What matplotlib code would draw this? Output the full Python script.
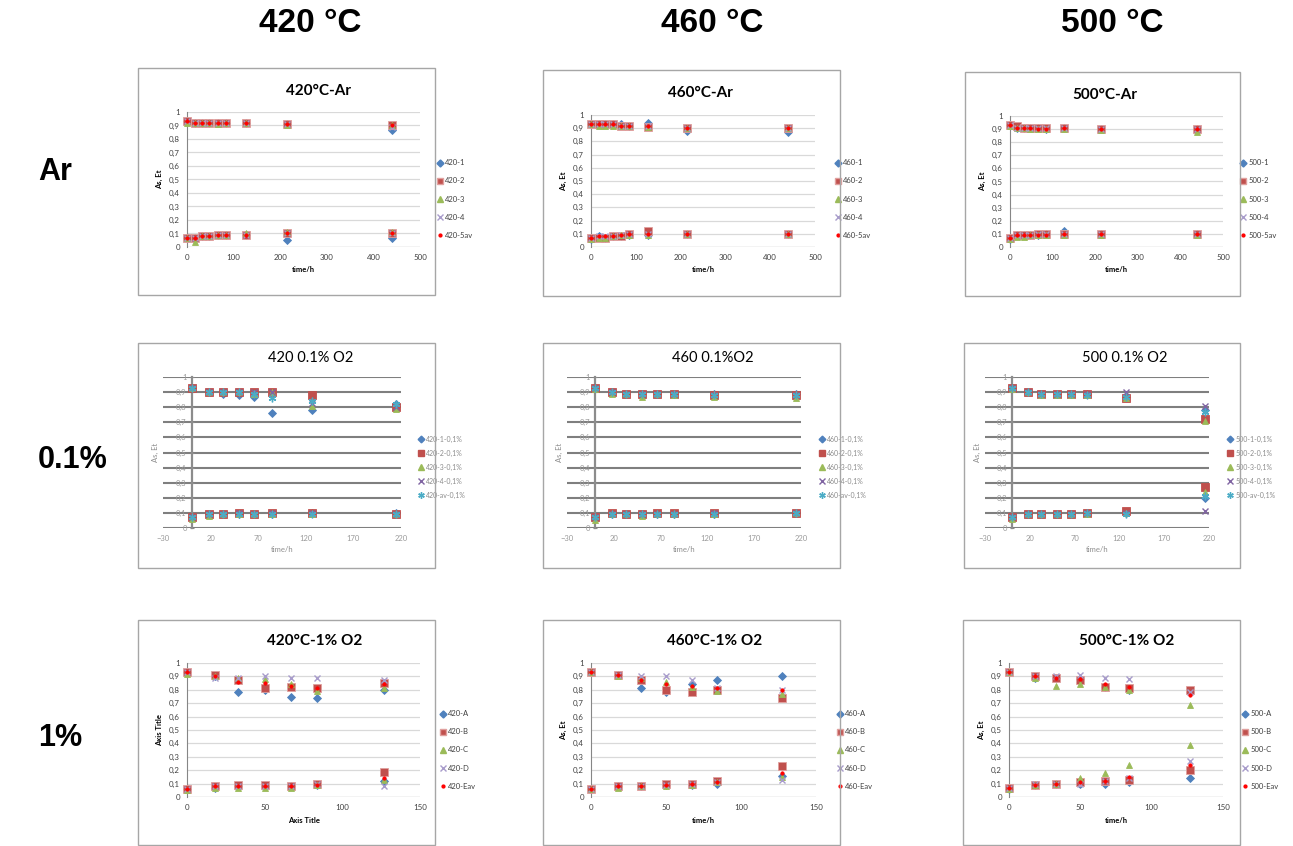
import matplotlib
matplotlib.use("Agg")
import matplotlib.pyplot as plt
from matplotlib.patches import Rectangle
from matplotlib.lines import Line2D
from matplotlib.ticker import FuncFormatter, MultipleLocator

W, H = 1293, 846

# --- DATA ---
COL_HEADS = ['420 °C', '460 °C', '500 °C']
ROW_HEADS = ['Ar', '0.1%', '1%']
TEMPS = ['420', '460', '500']

TITLES_AR = ['420°C-Ar', '460°C-Ar', '500°C-Ar']
TITLES_01 = ['420 0.1% O2', '460 0.1%O2', '500 0.1% O2']
TITLES_1 = ['420°C-1% O2', '460°C-1% O2', '500°C-1% O2']

SUFFIX_AR = ['-1', '-2', '-3', '-4', '-5av']
SUFFIX_01 = ['-1-0,1%', '-2-0,1%', '-3-0,1%', '-4-0,1%', '-av-0,1%']
SUFFIX_1 = ['-A', '-B', '-C', '-D', '-Eav']

# time points (h)
T_AR = [0, 17, 32, 48, 66, 84, 127, 214, 439]
T_01 = [0, 18, 33, 50, 66, 84, 127, 215]
T_1 = [0, 18, 33, 50, 67, 84, 127]

# Ar, upper (As) and lower (Et) branches, one row per series
AR420_UP = [[0.93, 0.92, 0.92, 0.92, 0.92, 0.92, 0.92, 0.91, 0.87],
            [0.93, 0.92, 0.92, 0.92, 0.92, 0.92, 0.92, 0.91, 0.90],
            [0.92, 0.92, 0.92, 0.92, 0.91, 0.92, 0.92, 0.90, 0.90],
            [0.93, 0.92, 0.92, 0.92, 0.92, 0.92, 0.92, 0.91, 0.89],
            [0.93, 0.92, 0.92, 0.92, 0.92, 0.92, 0.92, 0.91, 0.90]]
AR420_LOW = [[0.07, 0.07, 0.08, 0.08, 0.09, 0.09, 0.09, 0.05, 0.07],
             [0.07, 0.07, 0.08, 0.08, 0.09, 0.09, 0.09, 0.10, 0.10],
             [0.07, 0.04, 0.08, 0.08, 0.09, 0.09, 0.10, 0.11, 0.11],
             [0.07, 0.07, 0.08, 0.08, 0.09, 0.09, 0.09, 0.10, 0.10],
             [0.07, 0.07, 0.08, 0.08, 0.09, 0.09, 0.09, 0.10, 0.10]]
AR460_UP = [[0.93, 0.93, 0.93, 0.93, 0.93, 0.92, 0.94, 0.88, 0.87],
            [0.93, 0.93, 0.93, 0.93, 0.92, 0.92, 0.91, 0.90, 0.90],
            [0.93, 0.92, 0.92, 0.92, 0.92, 0.92, 0.91, 0.90, 0.90],
            [0.93, 0.93, 0.93, 0.93, 0.92, 0.92, 0.92, 0.90, 0.90],
            [0.93, 0.93, 0.93, 0.93, 0.92, 0.92, 0.92, 0.90, 0.90]]
AR460_LOW = [[0.06, 0.08, 0.07, 0.08, 0.08, 0.09, 0.09, 0.10, 0.10],
             [0.07, 0.07, 0.07, 0.08, 0.08, 0.10, 0.12, 0.10, 0.10],
             [0.06, 0.07, 0.07, 0.08, 0.09, 0.09, 0.09, 0.10, 0.10],
             [0.07, 0.08, 0.08, 0.08, 0.09, 0.10, 0.10, 0.10, 0.10],
             [0.07, 0.08, 0.08, 0.08, 0.09, 0.10, 0.10, 0.10, 0.10]]
AR500_UP = [[0.93, 0.91, 0.91, 0.91, 0.91, 0.90, 0.91, 0.90, 0.90],
            [0.93, 0.92, 0.91, 0.91, 0.91, 0.91, 0.91, 0.90, 0.90],
            [0.92, 0.91, 0.91, 0.90, 0.90, 0.90, 0.90, 0.89, 0.88],
            [0.93, 0.91, 0.91, 0.91, 0.91, 0.91, 0.91, 0.90, 0.90],
            [0.93, 0.91, 0.91, 0.91, 0.90, 0.90, 0.91, 0.90, 0.90]]
AR500_LOW = [[0.06, 0.09, 0.09, 0.09, 0.09, 0.10, 0.12, 0.10, 0.10],
             [0.07, 0.09, 0.09, 0.09, 0.10, 0.10, 0.10, 0.10, 0.10],
             [0.06, 0.08, 0.08, 0.09, 0.09, 0.09, 0.09, 0.09, 0.09],
             [0.07, 0.09, 0.09, 0.09, 0.10, 0.10, 0.10, 0.10, 0.10],
             [0.07, 0.09, 0.09, 0.09, 0.09, 0.09, 0.10, 0.10, 0.10]]

# 0.1% O2
O01_420_UP = [[0.93, 0.90, 0.89, 0.88, 0.87, 0.76, 0.78, 0.82],
              [0.93, 0.90, 0.90, 0.90, 0.90, 0.90, 0.88, 0.80],
              [0.93, 0.90, 0.90, 0.90, 0.89, 0.90, 0.81, 0.79],
              [0.93, 0.90, 0.90, 0.90, 0.90, 0.90, 0.83, 0.80],
              [0.93, 0.90, 0.90, 0.90, 0.89, 0.86, 0.84, 0.82]]
O01_420_LOW = [[0.07, 0.09, 0.09, 0.09, 0.09, 0.09, 0.10, 0.10],
               [0.07, 0.09, 0.09, 0.10, 0.09, 0.10, 0.10, 0.09],
               [0.06, 0.08, 0.09, 0.09, 0.09, 0.09, 0.09, 0.09],
               [0.07, 0.09, 0.09, 0.10, 0.09, 0.10, 0.10, 0.09],
               [0.07, 0.09, 0.09, 0.09, 0.09, 0.09, 0.09, 0.09]]
O01_460_UP = [[0.93, 0.90, 0.89, 0.89, 0.89, 0.89, 0.89, 0.89],
              [0.93, 0.90, 0.89, 0.89, 0.89, 0.89, 0.88, 0.88],
              [0.92, 0.89, 0.89, 0.87, 0.89, 0.88, 0.87, 0.86],
              [0.93, 0.90, 0.89, 0.89, 0.89, 0.89, 0.88, 0.88],
              [0.93, 0.90, 0.89, 0.89, 0.89, 0.89, 0.88, 0.88]]
O01_460_LOW = [[0.07, 0.09, 0.09, 0.09, 0.09, 0.09, 0.09, 0.10],
               [0.07, 0.10, 0.09, 0.09, 0.10, 0.10, 0.10, 0.10],
               [0.05, 0.09, 0.09, 0.08, 0.09, 0.09, 0.09, 0.10],
               [0.07, 0.09, 0.09, 0.09, 0.09, 0.09, 0.10, 0.10],
               [0.07, 0.09, 0.09, 0.09, 0.09, 0.09, 0.09, 0.10]]
O01_500_UP = [[0.93, 0.90, 0.89, 0.89, 0.89, 0.89, 0.87, 0.78],
              [0.93, 0.90, 0.89, 0.89, 0.89, 0.89, 0.86, 0.72],
              [0.92, 0.90, 0.88, 0.88, 0.88, 0.88, 0.86, 0.71],
              [0.93, 0.90, 0.89, 0.89, 0.89, 0.89, 0.90, 0.81],
              [0.93, 0.90, 0.89, 0.89, 0.89, 0.88, 0.87, 0.77]]
O01_500_LOW = [[0.07, 0.09, 0.09, 0.09, 0.09, 0.10, 0.10, 0.20],
               [0.07, 0.09, 0.09, 0.09, 0.09, 0.10, 0.11, 0.27],
               [0.06, 0.09, 0.09, 0.09, 0.09, 0.09, 0.10, 0.24],
               [0.07, 0.09, 0.09, 0.09, 0.09, 0.10, 0.10, 0.11],
               [0.07, 0.09, 0.09, 0.09, 0.09, 0.10, 0.09, 0.21]]

# 1% O2
O1_420_UP = [[0.93, 0.90, 0.78, 0.80, 0.75, 0.74, 0.80],
             [0.93, 0.91, 0.87, 0.81, 0.82, 0.81, 0.85],
             [0.92, 0.90, 0.89, 0.88, 0.84, 0.79, 0.81],
             [0.93, 0.89, 0.89, 0.90, 0.89, 0.89, 0.87],
             [0.93, 0.90, 0.86, 0.85, 0.83, 0.81, 0.84]]
O1_420_LOW = [[0.06, 0.07, 0.08, 0.08, 0.08, 0.09, 0.12],
              [0.06, 0.08, 0.09, 0.09, 0.08, 0.10, 0.19],
              [0.05, 0.07, 0.07, 0.07, 0.07, 0.09, 0.13],
              [0.06, 0.08, 0.08, 0.08, 0.08, 0.10, 0.08],
              [0.06, 0.08, 0.08, 0.08, 0.08, 0.09, 0.14]]
O1_460_UP = [[0.93, 0.91, 0.81, 0.78, 0.84, 0.87, 0.90],
             [0.93, 0.91, 0.87, 0.80, 0.78, 0.80, 0.74],
             [0.93, 0.90, 0.89, 0.86, 0.82, 0.79, 0.77],
             [0.93, 0.91, 0.90, 0.90, 0.87, 0.81, 0.80],
             [0.93, 0.91, 0.87, 0.84, 0.83, 0.81, 0.80]]
O1_460_LOW = [[0.06, 0.08, 0.08, 0.09, 0.09, 0.10, 0.16],
              [0.06, 0.08, 0.08, 0.10, 0.10, 0.12, 0.23],
              [0.06, 0.07, 0.08, 0.08, 0.09, 0.11, 0.15],
              [0.06, 0.08, 0.08, 0.09, 0.10, 0.11, 0.13],
              [0.06, 0.08, 0.08, 0.09, 0.10, 0.11, 0.18]]
O1_500_UP = [[0.93, 0.89, 0.89, 0.88, 0.82, 0.80, 0.78],
             [0.93, 0.90, 0.89, 0.87, 0.82, 0.81, 0.80],
             [0.93, 0.89, 0.83, 0.84, 0.82, 0.80, 0.69],
             [0.93, 0.90, 0.90, 0.91, 0.89, 0.88, 0.78],
             [0.93, 0.90, 0.89, 0.88, 0.84, 0.82, 0.76]]
O1_500_LOW = [[0.06, 0.09, 0.10, 0.10, 0.10, 0.11, 0.14],
              [0.07, 0.09, 0.10, 0.11, 0.12, 0.13, 0.20],
              [0.06, 0.09, 0.10, 0.14, 0.18, 0.24, 0.39],
              [0.07, 0.10, 0.10, 0.10, 0.12, 0.14, 0.27],
              [0.07, 0.09, 0.10, 0.11, 0.12, 0.15, 0.24]]

# --- LAYOUT (pixel boxes: left, top, right, bottom) ---
FRAMES = [[(138, 68, 435, 295), (543, 70, 840, 296), (965, 72, 1240, 296)],
          [(138, 343, 435, 568), (543, 343, 840, 568), (964, 343, 1240, 568)],
          [(138, 620, 435, 845), (543, 620, 840, 845), (963, 620, 1240, 845)]]
AREAS = [[(187, 112, 420, 247), (591, 115, 815, 247), (1010, 116, 1223, 247)],
         [(163, 377, 401, 528), (567, 377, 801, 528), (985, 377, 1209, 528)],
         [(187, 663, 420, 797), (591, 663, 816, 797), (1009, 663, 1223, 797)]]
TITLE_POS = [[(318, 91), (700, 93), (1105, 95)],
             [(311, 358), (713, 358), (1125, 358)],
             [(315, 641), (715, 641), (1127, 641)]]
LEGEND_POS = [[(436, 199), (834, 199), (1239, 199)],
              [(418, 467), (819, 467), (1227, 467)],
              [(439, 750), (836, 750), (1241, 750)]]

FONT = ['Lato', 'DejaVu Sans']
HEAD_FONT = ['Liberation Sans', 'DejaVu Sans']

# marker styles: (marker, face, edge, size)
STYLE_XL = [('D', '#4F81BD', '#4F81BD', 4.2),
            ('s', '#C0504D', '#E0A09E', 5.5),
            ('^', '#9BBB59', '#9BBB59', 5.0),
            ('x', '#A89CCB', '#A89CCB', 5.0),
            ('o', '#FF0000', '#FF0000', 2.4)]
STYLE_01 = [('D', '#4F81BD', '#4F81BD', 4.0),
            ('s', '#C0504D', '#C0504D', 5.2),
            ('^', '#9BBB59', '#9BBB59', 5.0),
            ('x', '#8064A2', '#8064A2', 5.0),
            ((6, 2, 0), '#4BACC6', '#4BACC6', 5.5)]


def fbox(b):
    l, t, r, bt = b
    return [l / W, 1 - bt / H, (r - l) / W, (bt - t) / H]


def comma(v, pos):
    return ('%g' % round(v, 1)).replace('.', ',')


fig = plt.figure(figsize=(W / 100, H / 100), dpi=100)
fig.patch.set_facecolor('white')

# column and row headers
for j, txt in enumerate(COL_HEADS):
    fig.text([310, 712, 1112][j] / W, 1 - 24 / H, txt, ha='center', va='center',
             fontsize=24, fontweight='bold', family=HEAD_FONT)
for i, txt in enumerate(ROW_HEADS):
    fig.text(38 / W, 1 - [172, 460, 738][i] / H, txt, ha='left', va='center',
             fontsize=22, fontweight='bold', family=HEAD_FONT)

ROWS = [
    dict(x=T_AR, up=[AR420_UP, AR460_UP, AR500_UP], low=[AR420_LOW, AR460_LOW, AR500_LOW],
         titles=TITLES_AR, suffix=SUFFIX_AR, style=STYLE_XL, xlim=(0, 500), xstep=100,
         xlabels=['time/h'] * 3, ylabels=['As, Et'] * 3, kind='xl'),
    dict(x=T_01, up=[O01_420_UP, O01_460_UP, O01_500_UP], low=[O01_420_LOW, O01_460_LOW, O01_500_LOW],
         titles=TITLES_01, suffix=SUFFIX_01, style=STYLE_01, xlim=(-30, 220), xstep=50,
         xlabels=['time/h'] * 3, ylabels=['As, Et'] * 3, kind='01'),
    dict(x=T_1, up=[O1_420_UP, O1_460_UP, O1_500_UP], low=[O1_420_LOW, O1_460_LOW, O1_500_LOW],
         titles=TITLES_1, suffix=SUFFIX_1, style=STYLE_XL, xlim=(0, 150), xstep=50,
         xlabels=['Axis Title', 'time/h', 'time/h'], ylabels=['Axis Title', 'As, Et', 'As, Et'], kind='xl'),
]

for i, row in enumerate(ROWS):
    for j in range(3):
        # chart frame
        fig.patches.append(Rectangle(fbox(FRAMES[i][j])[:2], *fbox(FRAMES[i][j])[2:],
                                     transform=fig.transFigure, fill=False,
                                     edgecolor='#A6A6A6', lw=1.0, zorder=0))
        ax = fig.add_axes(fbox(AREAS[i][j]))
        ax.set_facecolor('none')
        x = row['x']
        handles = []
        for k, (m, fc, ec, ms) in enumerate(row['style']):
            for data in (row['up'][j][k], row['low'][j][k]):
                ax.plot(x, data, linestyle='none', marker=m, markersize=ms,
                        markerfacecolor=fc, markeredgecolor=ec,
                        markeredgewidth=1.0 if m == 'x' or isinstance(m, tuple) else 0.6,
                        clip_on=False, zorder=3 + k)
            handles.append(Line2D([], [], linestyle='none', marker=m, markersize=ms * 0.85,
                                  markerfacecolor=fc, markeredgecolor=ec, markeredgewidth=1.0))
        ax.set_xlim(*row['xlim'])
        ax.set_ylim(0, 1)
        ax.xaxis.set_major_locator(MultipleLocator(row['xstep']))
        if row['kind'] == '01':
            ax.set_xticks(range(-30, 221, 50))
        ax.yaxis.set_major_locator(MultipleLocator(0.1))
        ax.yaxis.set_major_formatter(FuncFormatter(comma))

        temp = TEMPS[j]
        labels = [temp + s for s in row['suffix']]

        for s in ('top', 'right', 'bottom'):
            ax.spines[s].set_visible(False)
        if row['kind'] == 'xl':
            ax.spines['left'].set_color('#868686')
            ax.spines['left'].set_linewidth(0.8)
            ax.grid(axis='y', color='#D9D9D9', lw=0.9, zorder=0)
            ax.set_axisbelow(True)
            ax.tick_params(length=0, labelsize=5.7, colors='#404040', pad=5)
            ax.axhline(0, color='#868686', lw=0.8, zorder=1)
            ax.set_xlabel(row['xlabels'][j], fontsize=5.5, fontweight='bold', family=FONT, labelpad=4)
            ax.set_ylabel(row['ylabels'][j], fontsize=5.5, fontweight='bold', family=FONT, labelpad=4)
            fig.text(TITLE_POS[i][j][0] / W, 1 - TITLE_POS[i][j][1] / H, row['titles'][j],
                     ha='center', va='center', fontsize=11, fontweight='bold', family=FONT)
            leg_fs, leg_sp, leg_col = 5.5, 1.45, '#404040'
        else:
            ax.spines['left'].set_position(('data', 0))
            ax.spines['left'].set_color('#8C8C8C')
            ax.spines['left'].set_linewidth(1.6)
            ax.grid(axis='y', color='#7F7F7F', lw=1.5, zorder=0)
            ax.set_axisbelow(True)
            ax.tick_params(axis='y', length=3, direction='inout', width=0.8, color='#8C8C8C',
                           labelsize=5.5, labelcolor='#9A9A9A', pad=2)
            ax.tick_params(axis='x', length=0, labelsize=5.5, labelcolor='#9A9A9A', pad=5)
            ax.set_xlabel(row['xlabels'][j], fontsize=5.5, color='#8C8C8C', family=FONT, labelpad=3)
            ax.set_ylabel(row['ylabels'][j], fontsize=5.5, color='#8C8C8C', family=FONT)
            ax.yaxis.set_label_coords(-4 / (AREAS[i][j][2] - AREAS[i][j][0]), 0.5)
            fig.text(TITLE_POS[i][j][0] / W, 1 - TITLE_POS[i][j][1] / H, row['titles'][j],
                     ha='center', va='center', fontsize=10.5, family=FONT)
            leg_fs, leg_sp, leg_col = 5, 1.0, '#8C8C8C'

        for lab in ax.get_xticklabels() + ax.get_yticklabels():
            lab.set_family(FONT)

        lx, ly = LEGEND_POS[i][j]
        leg = ax.legend(handles, labels, loc='center left', bbox_to_anchor=(lx / W, 1 - ly / H),
                        bbox_transform=fig.transFigure, frameon=False,
                        handlelength=1.0, handletextpad=0.2, labelspacing=leg_sp,
                        borderpad=0, borderaxespad=0, prop={'family': FONT, 'size': leg_fs})
        for t in leg.get_texts():
            t.set_color(leg_col)

fig.savefig('out.png', dpi=100, facecolor='white')
